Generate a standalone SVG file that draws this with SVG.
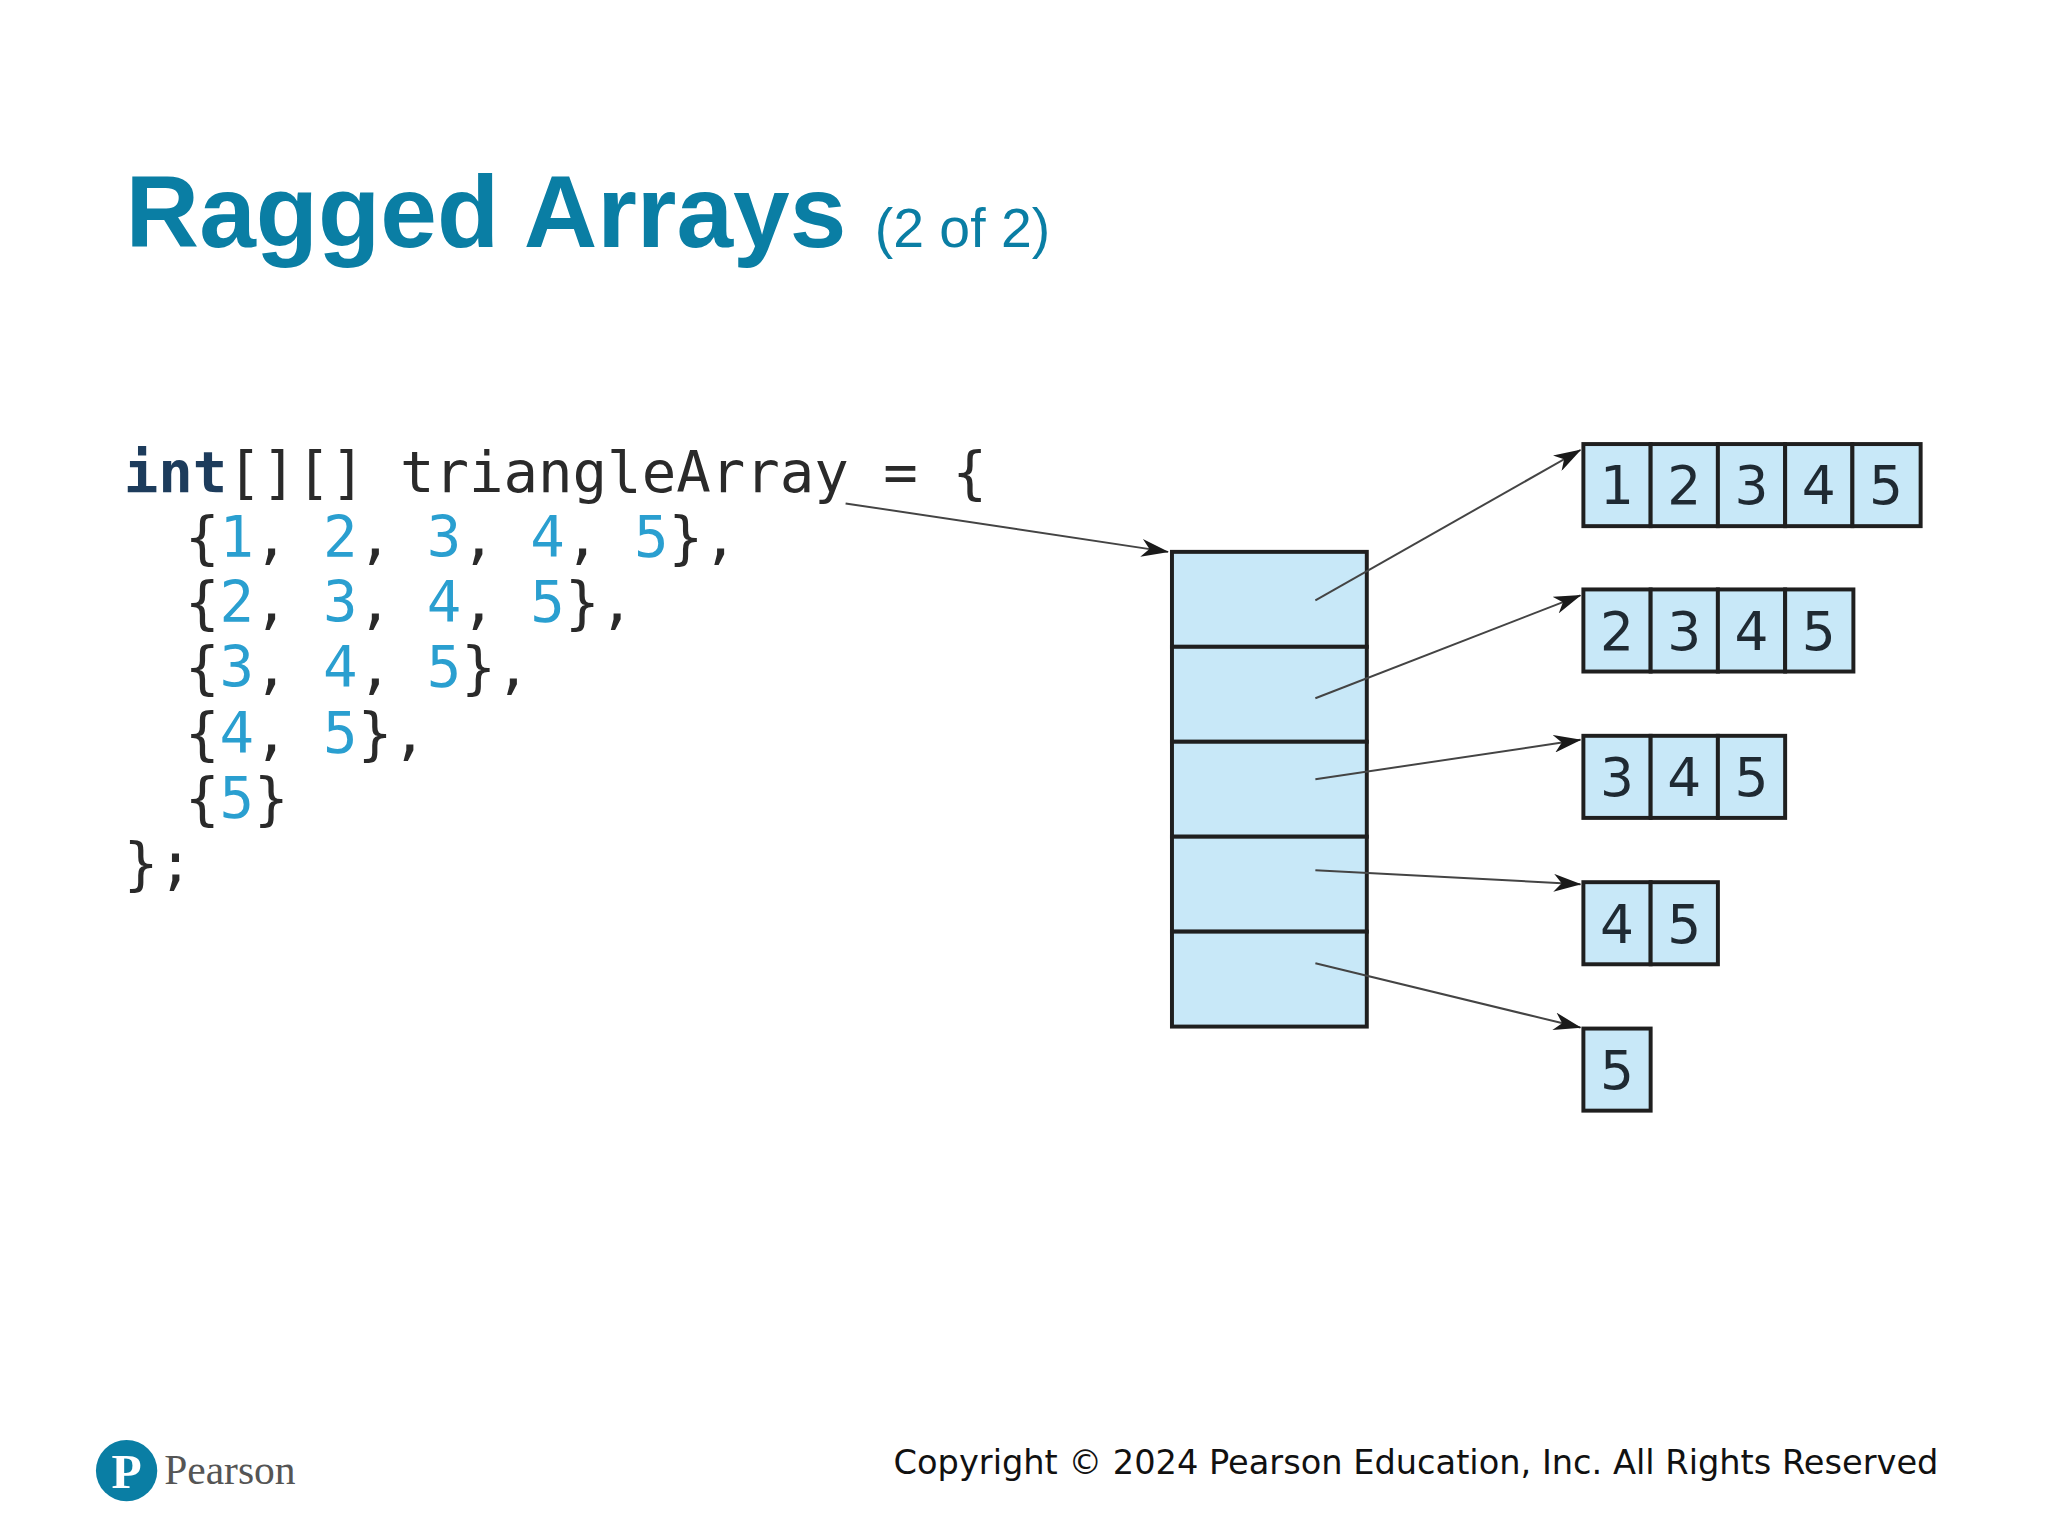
<svg xmlns="http://www.w3.org/2000/svg" width="2048" height="1536" viewBox="0 0 2048 1536">
<style>
.code{font-family:"DejaVu Sans Mono","Liberation Mono",monospace;font-size:58px;fill:#2a2a2a;white-space:pre}
.kw{font-weight:bold;fill:#1d3c5c}
.n{fill:#2a9fd0}
.cell{fill:#c8e8f8;stroke:#1f1f1f;stroke-width:4}
.num{font-family:"DejaVu Sans","Open Sans",sans-serif;font-size:54px;fill:#1f2a33;text-anchor:middle}
.con{stroke:#444;stroke-width:2;fill:none;marker-end:url(#ah)}
</style>
<defs>
<marker id="ah" viewBox="0 0 28 18" refX="27" refY="9" markerWidth="28" markerHeight="18" markerUnits="userSpaceOnUse" orient="auto">
<path d="M0,0 L28,9 L0,18 L8,9 z" fill="#1a1a1a"/>
</marker>
</defs>
<rect width="2048" height="1536" fill="#fff"/>
<g transform="scale(0.989)">
<g id="title">
<text x="127" y="250" font-family="Liberation Sans,Arial,sans-serif" font-weight="bold" font-size="103" fill="#0a7ea4">Ragged Arrays <tspan font-size="56" font-weight="normal">(2 of 2)</tspan></text>
</g>
<g id="code" class="code">
<text x="125" y="497"><tspan class="kw">int</tspan>[][] triangleArray = {</text>
<text x="187" y="563">{<tspan class="n">1</tspan>, <tspan class="n">2</tspan>, <tspan class="n">3</tspan>, <tspan class="n">4</tspan>, <tspan class="n">5</tspan>},</text>
<text x="187" y="629">{<tspan class="n">2</tspan>, <tspan class="n">3</tspan>, <tspan class="n">4</tspan>, <tspan class="n">5</tspan>},</text>
<text x="187" y="695">{<tspan class="n">3</tspan>, <tspan class="n">4</tspan>, <tspan class="n">5</tspan>},</text>
<text x="187" y="761">{<tspan class="n">4</tspan>, <tspan class="n">5</tspan>},</text>
<text x="187" y="827">{<tspan class="n">5</tspan>}</text>
<text x="125" y="893">};</text>
</g>
<g id="outer">
<rect class="cell" x="1185" y="558" width="197" height="96"/>
<rect class="cell" x="1185" y="654" width="197" height="96"/>
<rect class="cell" x="1185" y="750" width="197" height="96"/>
<rect class="cell" x="1185" y="846" width="197" height="96"/>
<rect class="cell" x="1185" y="942" width="197" height="96"/>
</g>
<g id="row0">
<rect class="cell" x="1601" y="449" width="68" height="83"/><rect class="cell" x="1669" y="449" width="68" height="83"/><rect class="cell" x="1737" y="449" width="68" height="83"/><rect class="cell" x="1805" y="449" width="68" height="83"/><rect class="cell" x="1873" y="449" width="69" height="83"/>
<text class="num" x="1635" y="510">1</text><text class="num" x="1703" y="510">2</text><text class="num" x="1771" y="510">3</text><text class="num" x="1839" y="510">4</text><text class="num" x="1907" y="510">5</text>
</g>
<g id="row1">
<rect class="cell" x="1601" y="596" width="68" height="83"/><rect class="cell" x="1669" y="596" width="68" height="83"/><rect class="cell" x="1737" y="596" width="68" height="83"/><rect class="cell" x="1805" y="596" width="69" height="83"/>
<text class="num" x="1635" y="657">2</text><text class="num" x="1703" y="657">3</text><text class="num" x="1771" y="657">4</text><text class="num" x="1839" y="657">5</text>
</g>
<g id="row2">
<rect class="cell" x="1601" y="744" width="68" height="83"/><rect class="cell" x="1669" y="744" width="68" height="83"/><rect class="cell" x="1737" y="744" width="68" height="83"/>
<text class="num" x="1635" y="805">3</text><text class="num" x="1703" y="805">4</text><text class="num" x="1771" y="805">5</text>
</g>
<g id="row3">
<rect class="cell" x="1601" y="892" width="68" height="83"/><rect class="cell" x="1669" y="892" width="68" height="83"/>
<text class="num" x="1635" y="953">4</text><text class="num" x="1703" y="953">5</text>
</g>
<g id="row4">
<rect class="cell" x="1601" y="1040" width="68" height="83"/>
<text class="num" x="1635" y="1101">5</text>
</g>
<g id="connectors">
<line class="con" x1="855" y1="509" x2="1181" y2="558"/>
<line class="con" x1="1330" y1="607" x2="1598" y2="455"/>
<line class="con" x1="1330" y1="706" x2="1598" y2="602"/>
<line class="con" x1="1330" y1="788" x2="1598" y2="748"/>
<line class="con" x1="1330" y1="880" x2="1598" y2="894"/>
<line class="con" x1="1330" y1="974" x2="1598" y2="1039"/>
</g>
<g id="footer">
<circle cx="128" cy="1487" r="31" fill="#0a7ea4"/>
<text x="128" y="1505" font-family="Liberation Serif,serif" font-weight="bold" font-size="50" fill="#fff" text-anchor="middle">P</text>
<text x="166" y="1500" font-family="Liberation Serif,serif" font-size="42" fill="#555">Pearson</text>
<text x="1960" y="1490" font-family="DejaVu Sans,sans-serif" font-size="34" fill="#111" text-anchor="end">Copyright © 2024 Pearson Education, Inc. All Rights Reserved</text>
</g>
</g>
</svg>
